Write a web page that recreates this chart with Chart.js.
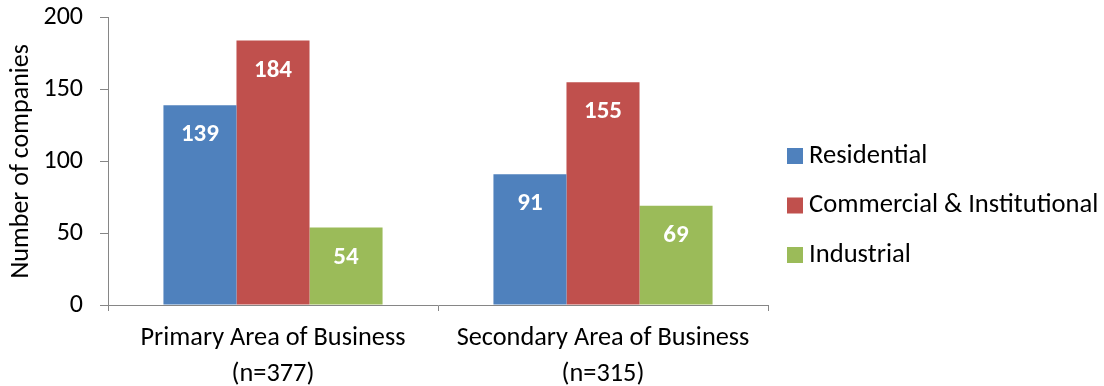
<!DOCTYPE html>
<html>
<head>
<meta charset="utf-8">
<script src="https://cdn.jsdelivr.net/npm/chart.js@4.4.0/dist/chart.umd.min.js"></script>
<style>
html,body{margin:0;padding:0;background:#fff;}
#wrap{width:1104px;height:386px;position:relative;}
</style>
</head>
<body>
<div id="wrap"><canvas id="c" width="1104" height="386"></canvas></div>
<script>
const categories = [["Primary Area of Business", "(n=377)"], ["Secondary Area of Business", "(n=315)"]];
const seriesNames = ["Residential", "Commercial & Institutional", "Industrial"];
const residential = [139, 91];
const commercial = [184, 155];
const industrial = [54, 69];
const yTicks = [0, 50, 100, 150, 200];
const colors = ["#4F81BD", "#C0504D", "#9BBB59"];
const FONT = "Carlito, 'Open Sans', sans-serif";
const AXIS = "#868686";

const valueLabels = {
  id: 'valueLabels',
  afterDatasetsDraw(chart) {
    const ctx = chart.ctx;
    ctx.save();
    ctx.fillStyle = '#fff';
    ctx.font = "bold 25px " + FONT;
    ctx.textAlign = 'center';
    ctx.textBaseline = 'middle';
    chart.data.datasets.forEach((ds, i) => {
      chart.getDatasetMeta(i).data.forEach((bar, j) => {
        ctx.fillText(String(ds.data[j]), bar.x, bar.y + 30);
      });
    });
    ctx.restore();
  }
};

const sideLegend = {
  id: 'sideLegend',
  afterDraw(chart) {
    const ctx = chart.ctx;
    ctx.save();
    ctx.font = "26.6px " + FONT;
    ctx.textBaseline = 'middle';
    ctx.textAlign = 'left';
    chart.data.datasets.forEach((ds, i) => {
      const cy = 156 + i * 49.5;
      ctx.fillStyle = ds.backgroundColor;
      ctx.fillRect(787, cy - 8, 16, 16);
      ctx.fillStyle = '#000';
      ctx.fillText(ds.label, 809, cy);
    });
    ctx.restore();
  }
};

function noPad(s) { s.paddingTop = 0; s.paddingBottom = 0; s.paddingLeft = 0; s.paddingRight = 0; }

new Chart(document.getElementById('c'), {
  type: 'bar',
  data: {
    labels: categories,
    datasets: [
      { label: seriesNames[0], data: residential, backgroundColor: colors[0] },
      { label: seriesNames[1], data: commercial, backgroundColor: colors[1] },
      { label: seriesNames[2], data: industrial, backgroundColor: colors[2] }
    ]
  },
  options: {
    responsive: false,
    animation: false,
    devicePixelRatio: 1,
    layout: { padding: { left: 0, right: 336, top: 17.5, bottom: 0 } },
    datasets: { bar: { categoryPercentage: 0.664, barPercentage: 1.0 } },
    plugins: {
      legend: { display: false },
      tooltip: { enabled: false }
    },
    scales: {
      x: {
        grid: { display: true, drawOnChartArea: false, drawTicks: true, tickLength: 6, color: AXIS, offset: true },
        border: { display: true, color: AXIS, width: 1 },
        ticks: { color: '#000', font: { family: FONT, size: 26.3, lineHeight: 1.35 }, padding: 10, maxRotation: 0, autoSkip: false },
        afterFit(s) { s.height = 81; noPad(s); }
      },
      y: {
        min: 0, max: 200,
        afterBuildTicks(s) { s.ticks = yTicks.map(v => ({ value: v })); },
        grid: { display: true, drawOnChartArea: false, drawTicks: true, tickLength: 8, color: AXIS },
        border: { display: true, color: AXIS, width: 1 },
        ticks: { color: '#000', font: { family: FONT, size: 26 }, padding: 17 },
        title: { display: true, text: 'Number of companies', color: '#000', font: { family: FONT, size: 26 }, padding: { top: 6, bottom: 0 } },
        afterFit(s) { s.width = 108; noPad(s); }
      }
    }
  },
  plugins: [valueLabels, sideLegend]
});
</script>
</body>
</html>
